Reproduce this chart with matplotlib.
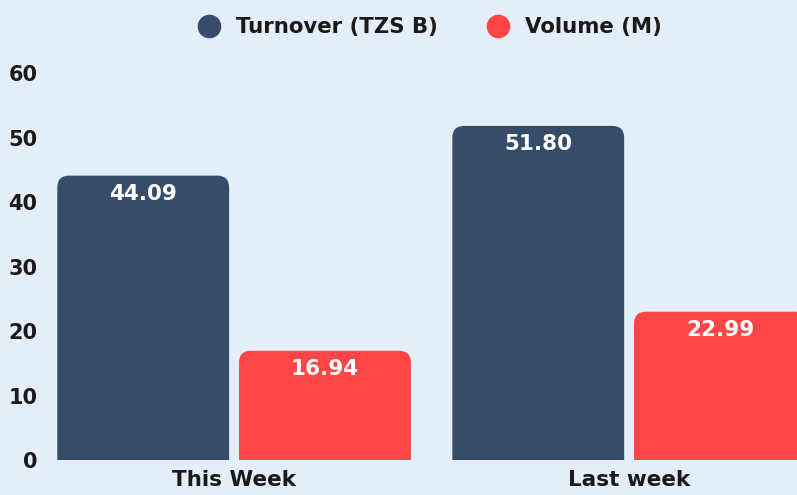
import matplotlib.pyplot as plt
from matplotlib.patches import FancyBboxPatch
from matplotlib.lines import Line2D

# chart values
categories = ['This Week', 'Last week']
turnover = [44.09, 51.80]   # TZS B
volume = [16.94, 22.99]     # M
series_names = ['Turnover (TZS B)', 'Volume (M)']
colors = ['#364d69', '#ff4545']
bg = '#e4eef9'

plt.rcParams['font.family'] = ['DejaVu Sans']

fig = plt.figure(figsize=(7.97, 4.95), dpi=100, facecolor=bg)
ax = fig.add_axes([0.0627, 0.0707, 0.9373, 0.7818], facecolor=bg)

width = 0.435
offset = 0.23
ax.set_xlim(-0.466, 1.425)
ax.set_ylim(0, 60)

# rounding radius in x units, aspect converts it to y units
rx = 0.03
aspect = 62

for vals, col, off in [(turnover, colors[0], -offset), (volume, colors[1], offset)]:
    for i, v in enumerate(vals):
        x0 = i + off - width / 2
        box = FancyBboxPatch((x0, -5), width, v + 5,
                             boxstyle=f'round,pad=0,rounding_size={rx}',
                             mutation_aspect=aspect, facecolor=col,
                             edgecolor='none')
        ax.add_patch(box)
        ax.text(i + off, v - 2.8, f'{v:.2f}', ha='center', va='center',
                color='white', fontsize=15.5, fontweight='bold')

ax.set_xticks(range(len(categories)))
ax.set_xticklabels(categories, fontsize=15.5, fontweight='bold', color='#1a1a1a')
ax.set_yticks(range(0, 61, 10))
ax.set_yticklabels([str(t) for t in range(0, 61, 10)], fontsize=15,
                   fontweight='bold', color='#1a1a1a')
ax.tick_params(length=0)
ax.tick_params(axis='x', pad=7)
ax.tick_params(axis='y', pad=9)
for s in ax.spines.values():
    s.set_visible(False)

handles = [Line2D([], [], marker='o', linestyle='none', markersize=17,
                  markerfacecolor=c, markeredgecolor='none') for c in colors]
fig.legend(handles, series_names, loc='center', bbox_to_anchor=(0.533, 0.945),
           ncol=2, frameon=False, handletextpad=0.3, columnspacing=1.8,
           prop={'size': 15.3, 'weight': 'bold'}, labelcolor='#1a1a1a')

fig.savefig('out.png', dpi=100, facecolor=bg)
